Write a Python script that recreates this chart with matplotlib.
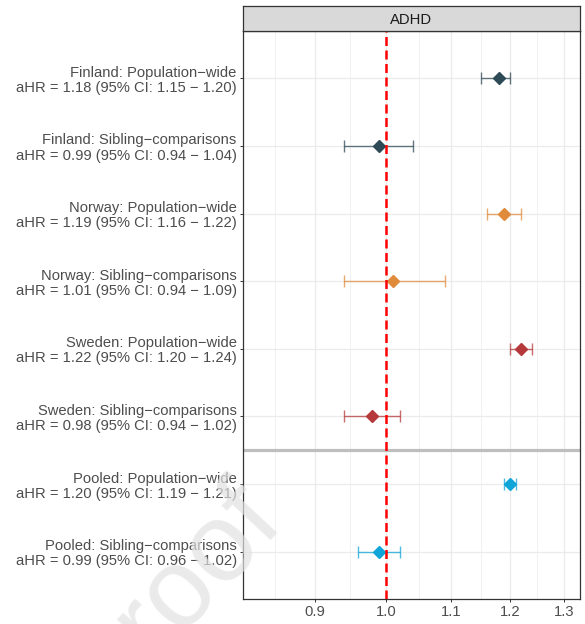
import matplotlib
matplotlib.use("Agg")
import matplotlib.pyplot as plt
from matplotlib.ticker import FixedLocator, NullFormatter
import numpy as np

plt.rcParams["font.family"] = ["Liberation Sans", "DejaVu Sans"]

# ── data (top to bottom) ──────────────────────────────────────────────────────
cohorts  = ["Finland", "Finland", "Norway", "Norway",
            "Sweden", "Sweden", "Pooled", "Pooled"]
designs  = ["Population\u2212wide", "Sibling\u2212comparisons"] * 4
ahr      = [1.18, 0.99, 1.19, 1.01, 1.22, 0.98, 1.20, 0.99]
ci_low   = [1.15, 0.94, 1.16, 0.94, 1.20, 0.94, 1.19, 0.96]
ci_high  = [1.20, 1.04, 1.22, 1.09, 1.24, 1.02, 1.21, 1.02]
x_breaks = [0.9, 1.0, 1.1, 1.2, 1.3]

COLORS = {"Finland": "#2E4A56", "Norway": "#E08A3C",
          "Sweden": "#B5393B", "Pooled": "#10A5D8"}
TXT = "#4D4D4D"
FS = 10.6

labels = [f"{c}: {d}\naHR = {a:.2f} (95% CI: {lo:.2f} \u2212 {hi:.2f})"
          for c, d, a, lo, hi in zip(cohorts, designs, ahr, ci_low, ci_high)]
n = len(ahr)
ypos = np.arange(n, 0, -1)

fig = plt.figure(figsize=(5.85, 6.24), dpi=100)
ax = fig.add_axes([243 / 585, 1 - 599 / 624, 337 / 585, 568 / 624])
strip = fig.add_axes([243 / 585, 1 - 31 / 624, 337 / 585, 25 / 624])

# ── watermark ────────────────────────────────────────────────────────────────
fig.text(284 / 585, 1 - 518 / 624, "Pre-proof", fontsize=80, color="#E2E2E2",
         alpha=0.7, rotation=47, rotation_mode="anchor", ha="right",
         va="baseline", zorder=10)

# ── panel ─────────────────────────────────────────────────────────────────────
ax.set_xscale("log")
ax.set_xlim(0.81, 1.33)
ax.set_ylim(0.3, n + 0.7)

ax.xaxis.set_major_locator(FixedLocator(x_breaks))
ax.xaxis.set_major_formatter(plt.FixedFormatter([f"{b:.1f}" for b in x_breaks]))
ext = [0.8] + x_breaks + [1.4]
minors = [np.sqrt(a * b) for a, b in zip(ext[:-1], ext[1:])]
ax.xaxis.set_minor_locator(FixedLocator(minors))
ax.xaxis.set_minor_formatter(NullFormatter())

ax.set_yticks(ypos)
ax.set_yticklabels(labels, fontsize=FS, color=TXT, ha="right",
                   linespacing=1.1)

ax.grid(which="major", color="#EBEBEB", lw=0.9, zorder=0)
ax.grid(which="minor", axis="x", color="#EBEBEB", lw=0.5, zorder=0)
ax.set_axisbelow(True)

ax.tick_params(axis="both", which="major", length=2.5, width=0.7,
               color="#333333", labelsize=FS, labelcolor=TXT, pad=2)
ax.tick_params(axis="x", which="minor", length=0)
for sp in ax.spines.values():
    sp.set_color("#333333")
    sp.set_linewidth(0.9)

# separator between country estimates and pooled
ax.axhline(2.5, color="#BEBEBE", lw=2.3, zorder=2)

for y, c, a, lo, hi in zip(ypos, cohorts, ahr, ci_low, ci_high):
    col = COLORS[c]
    ax.errorbar(a, y, xerr=[[a - lo], [hi - a]], fmt="none", ecolor=col,
                elinewidth=1.0, capsize=4.5, capthick=1.0, alpha=0.75, zorder=3)
    ax.plot(a, y, marker="D", ms=6.5, color=col, mec=col, zorder=4)

ax.axvline(1.0, color="red", lw=1.8, ls=(0, (3.6, 1.8)), zorder=5)

# ── strip ─────────────────────────────────────────────────────────────────────
strip.set_facecolor("#D9D9D9")
strip.set_xticks([])
strip.set_yticks([])
for sp in strip.spines.values():
    sp.set_color("#333333")
    sp.set_linewidth(0.9)
strip.text(0.5, 0.45, "ADHD", ha="center", va="center", fontsize=FS,
           color="#1A1A1A", transform=strip.transAxes)

fig.savefig("out.png", dpi=100)
